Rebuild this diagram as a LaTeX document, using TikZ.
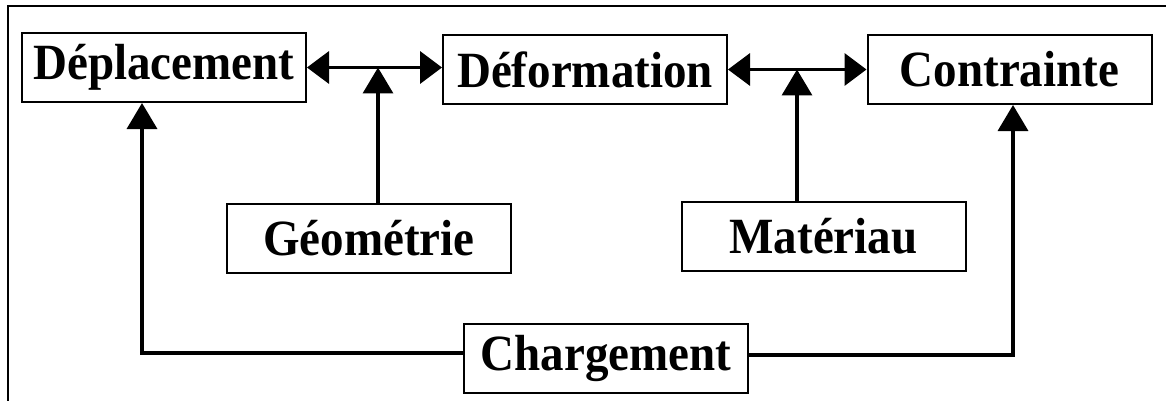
\documentclass[tikz,border=0pt]{standalone}
\usepackage{fontspec}
\usepackage{graphicx}
\setmainfont{Liberation Serif}
\usetikzlibrary{arrows.meta}
\tikzset{
  blk/.style={draw, line width=2pt, inner sep=0pt, minimum width=284pt, minimum height=69pt,
    font=\fontsize{47}{50}\selectfont\bfseries},
  link/.style={line width=3.5pt},
  arr/.style={link, -{Triangle[length=26pt,width=30pt]}},
  darr/.style={link, {Triangle[length=22pt,width=32pt]}-{Triangle[length=22pt,width=32pt]}},
  frame/.style={line width=2pt}
}
\newcommand{\lbl}[1]{\scalebox{1}[1.08]{#1}}
\begin{document}
\begin{tikzpicture}[x=1pt, y=-1pt]
  \useasboundingbox (0,0) rectangle (1166,401);
  % partial frame
  \coordinate (ftl) at (8,6);
  \coordinate (ftr) at (1166,6);
  \coordinate (fbl) at (8,401);
  \draw[frame] (ftr) -- (ftl) -- (fbl);

  % boxes
  \node[blk] (dep) at (164,67.5)  {\lbl{Déplacement}};
  \node[blk] (def) at (585,69.5)  {\lbl{Déformation}};
  \node[blk] (con) at (1009.5,69.5) {\lbl{Contrainte}};
  \node[blk] (geo) at (369,238)   {\lbl{Géométrie}};
  \node[blk] (mat) at (823.5,236.5) {\lbl{Matériau}};
  \node[blk] (cha) at (606,358)   {\lbl{Chargement}};

  % junctions on the horizontal links
  \coordinate (j1) at (378,67.5);
  \coordinate (j2) at (797,69.5);

  % horizontal double arrows
  \draw[darr] (dep.east) -- (def.west |- dep.east);
  \draw[darr] (def.east) -- (con.west |- def.east);

  % vertical influences
  \draw[arr] (geo.north -| j1) -- (j1);
  \draw[arr] (mat.north -| j2) -- (j2);

  % loading paths
  \draw[arr] ([yshift=5pt]cha.west) -| ([xshift=-22pt]dep.south);
  \draw[arr] ([yshift=3pt]cha.east) -| ([xshift=3.5pt]con.south);
\end{tikzpicture}
\end{document}
